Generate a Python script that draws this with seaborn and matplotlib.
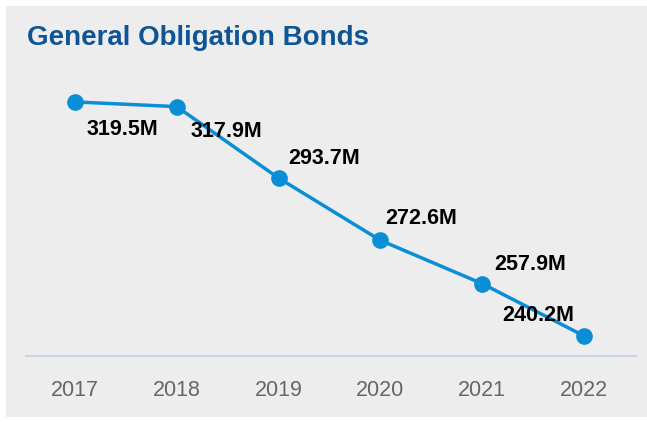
import matplotlib
matplotlib.use("Agg")
import matplotlib.pyplot as plt
import seaborn as sns
import pandas as pd
from matplotlib.patches import Rectangle

years = ["2017", "2018", "2019", "2020", "2021", "2022"]
bonds = [319.5, 317.9, 293.7, 272.6, 257.9, 240.2]
labels = ["319.5M", "317.9M", "293.7M", "272.6M", "257.9M", "240.2M"]

# label offsets in pixels (dx, dy with y going down)
offsets_px = [(48, 28), (50, 25), (46, -20), (41, -22), (48, -19), (-46, -20)]

sns.set_theme(style="white")
plt.rcParams["font.family"] = ["Liberation Sans", "DejaVu Sans"]

df = pd.DataFrame({"year": years, "bonds": bonds})

fig = plt.figure(figsize=(6.47, 4.22), dpi=100)
fig.patch.set_facecolor("white")
fig.patches.append(Rectangle((6 / 647, 1 - 417 / 422), 1 - 6 / 647, (417 - 6) / 422,
                             transform=fig.transFigure, facecolor="#EDEDED",
                             edgecolor="none", zorder=-5))

ax = fig.add_axes([26 / 647, 1 - 356 / 422, (636 - 26) / 647, (356 - 60) / 422])
ax.set_facecolor("none")
ax.set_zorder(2)

sns.lineplot(data=df, x="year", y="bonds", color="#0A8ED6", linewidth=2.5,
             marker="o", markersize=12, markeredgewidth=0, ax=ax)

for i, (v, lab) in enumerate(zip(bonds, labels)):
    dx, dy = offsets_px[i]
    ax.annotate(lab, (i, v), xytext=(dx * 0.72, -dy * 0.72), textcoords="offset points",
                ha="center", va="center", fontsize=15.5, fontweight="bold", color="black")

ax.set_xlim(-0.48, 5.51)
ax.set_ylim(233.4, 333.7)
ax.set_yticks([])
ax.set_xlabel("")
ax.set_ylabel("")
for s in ["top", "right", "left"]:
    ax.spines[s].set_visible(False)
ax.spines["bottom"].set_color("#C9D5EA")
ax.spines["bottom"].set_linewidth(1.5)
ax.tick_params(axis="x", length=0, pad=17, labelsize=15.5, labelcolor="#666666")

fig.text(27 / 647, 1 - 38 / 422, "General Obligation Bonds", fontsize=20,
         fontweight="bold", color="#0F5596", ha="left", va="center")

fig.savefig("out.png", dpi=100)
